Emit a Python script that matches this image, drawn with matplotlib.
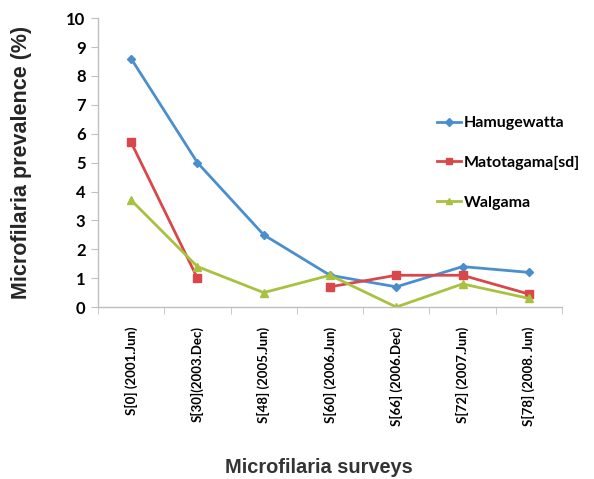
import matplotlib
matplotlib.use("Agg")
import matplotlib.pyplot as plt
import numpy as np

surveys = ["S[0] (2001.Jun)", "S[30](2003.Dec)", "S[48] (2005.Jun)",
           "S[60] (2006.Jun)", "S[66] (2006.Dec)", "S[72] (2007.Jun)",
           "S[78] (2008. Jun)"]
hamugewatta = [8.6, 5.0, 2.5, 1.1, 0.7, 1.4, 1.2]
matotagama = [5.7, 1.0, np.nan, 0.7, 1.1, 1.1, 0.45]
walgama = [3.7, 1.4, 0.5, 1.1, 0.0, 0.8, 0.3]

GRID = "#BFBFBF"

fig = plt.figure(figsize=(5.94, 4.79), dpi=100)
ax = fig.add_axes([0.165, 0.359, 0.781, 0.603])

x = np.arange(len(surveys))
ax.plot(x, hamugewatta, color="#4A8FCD", lw=2, marker="D", ms=4,
        label="Hamugewatta")
ax.plot(x, matotagama, color="#D9474A", lw=2, marker="s", ms=6,
        label="Matotagama[sd]")
ax.plot(x, walgama, color="#A8C240", lw=2, marker="^", ms=6,
        label="Walgama")

ax.set_xlim(-0.5, len(surveys) - 0.5)
ax.set_ylim(0, 10)
ax.set_yticks(range(0, 11))
ax.set_yticklabels([str(v) for v in range(0, 11)], fontsize=12,
                   fontweight="bold", family="Lato")
ax.set_xticks(x)
ax.set_xticklabels(surveys, rotation=90, fontsize=9.5, fontweight="bold",
                   family="Lato")
ax.set_xticks(np.arange(-0.5, len(surveys)), minor=True)
ax.tick_params(axis="x", which="major", length=0, pad=14)
ax.tick_params(axis="x", which="minor", length=5, color=GRID, direction="out")
ax.tick_params(axis="y", length=5, color=GRID, direction="out", pad=4)

for side in ["top", "right"]:
    ax.spines[side].set_visible(False)
for side in ["left", "bottom"]:
    ax.spines[side].set_color(GRID)
    ax.spines[side].set_linewidth(1)

fig.text(0.037, 0.66, "Microfilaria prevalence (%)", rotation=90,
         ha="center", va="center", fontsize=15.5, fontweight="bold",
         family="Liberation Sans", color="#262626")
fig.text(0.536, 0.025, "Microfilaria surveys", ha="center", va="center",
         fontsize=14.4, fontweight="bold", family="Liberation Sans",
         color="#333333")

leg = ax.legend(loc="upper left", bbox_to_anchor=(0.735, 0.758),
                bbox_transform=fig.transFigure, frameon=False,
                handlelength=1.5, handletextpad=0.2, labelspacing=1.6,
                borderaxespad=0, borderpad=0,
                prop={"family": "Lato", "weight": "bold", "size": 11.5})
for h in leg.legend_handles:
    h.set_markersize(4)

fig.savefig("out.png", dpi=100)
